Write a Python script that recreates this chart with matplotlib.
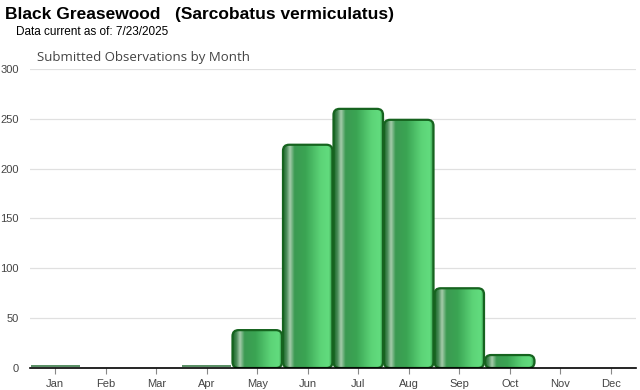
import matplotlib
matplotlib.use("Agg")
import matplotlib.pyplot as plt
import numpy as np
from matplotlib.patches import FancyBboxPatch
from matplotlib.colors import LinearSegmentedColormap

months = ["Jan", "Feb", "Mar", "Apr", "May", "Jun", "Jul", "Aug", "Sep", "Oct", "Nov", "Dec"]
counts = [2, 0, 0, 2, 38, 224, 260, 249, 80, 13, 0, 0]
yticks = [0, 50, 100, 150, 200, 250, 300]

title = "Black Greasewood   (Sarcobatus vermiculatus)"
subtitle = "Data current as of: 7/23/2025"
chart_title = "Submitted Observations by Month"

fig = plt.figure(figsize=(6.4, 3.9), dpi=100)
ax = fig.add_axes([30/640, 22/390, 606/640, 299/390])

cmap = LinearSegmentedColormap.from_list("bar", [
    (0.0, "#1d6a2c"),
    (0.07, "#4a8c58"),
    (0.14, "#a6ccac"),
    (0.23, "#3c9a52"),
    (0.45, "#3aa453"),
    (0.75, "#5cd377"),
    (0.92, "#62dc7e"),
    (1.0, "#2d8a40"),
])
grad = np.linspace(0, 1, 256).reshape(1, -1)

width = 0.98
for i, v in enumerate(counts):
    if v <= 0:
        continue
    x0 = i - width / 2
    if v < 4:
        ax.plot([x0, x0 + width], [v, v], color="#3a7a48", lw=1.2, zorder=7,
                solid_capstyle="butt")
        continue
    r = min(0.12, v / 2 / 50)
    patch = FancyBboxPatch((x0, 0), width, v,
                           boxstyle=f"round,pad=0,rounding_size={r}",
                           mutation_aspect=50,
                           facecolor="none", edgecolor="#16631f", lw=1.6, zorder=4)
    ax.add_patch(patch)
    im = ax.imshow(grad, cmap=cmap, extent=[x0, x0 + width, 0, v],
                   aspect="auto", zorder=3, interpolation="bilinear")
    im.set_clip_path(patch)

ax.set_xlim(-0.5, 11.5)
ax.set_ylim(0, 300)
ax.set_aspect("auto")
ax.set_xticks(range(12))
ax.set_xticklabels(months)
ax.set_yticks(yticks)
for y in yticks[1:]:
    ax.axhline(y, color="#e0e0e0", lw=0.9, zorder=0)

for s in ["top", "right", "left"]:
    ax.spines[s].set_visible(False)
ax.spines["bottom"].set_color("#000000")
ax.spines["bottom"].set_linewidth(1.2)
ax.spines["bottom"].set_zorder(6)
ax.tick_params(axis="x", length=4, color="#888888", labelsize=8, labelcolor="#444444", pad=4)
ax.tick_params(axis="y", length=0, labelsize=8, labelcolor="#444444", pad=8)
for lab in ax.get_xticklabels() + ax.get_yticklabels():
    lab.set_family("Liberation Sans")

fig.text(5/640, 1 - 15/390, title, fontsize=12.5, fontweight="bold",
         family="Liberation Sans", va="center", ha="left")
fig.text(16/640, 1 - 32/390, subtitle, fontsize=8.5, family="Liberation Sans",
         va="center", ha="left")
fig.text(37/640, 1 - 57/390, chart_title, fontsize=9.5, family="Open Sans",
         color="#444444", va="center", ha="left")

fig.savefig("out.png", dpi=100)
